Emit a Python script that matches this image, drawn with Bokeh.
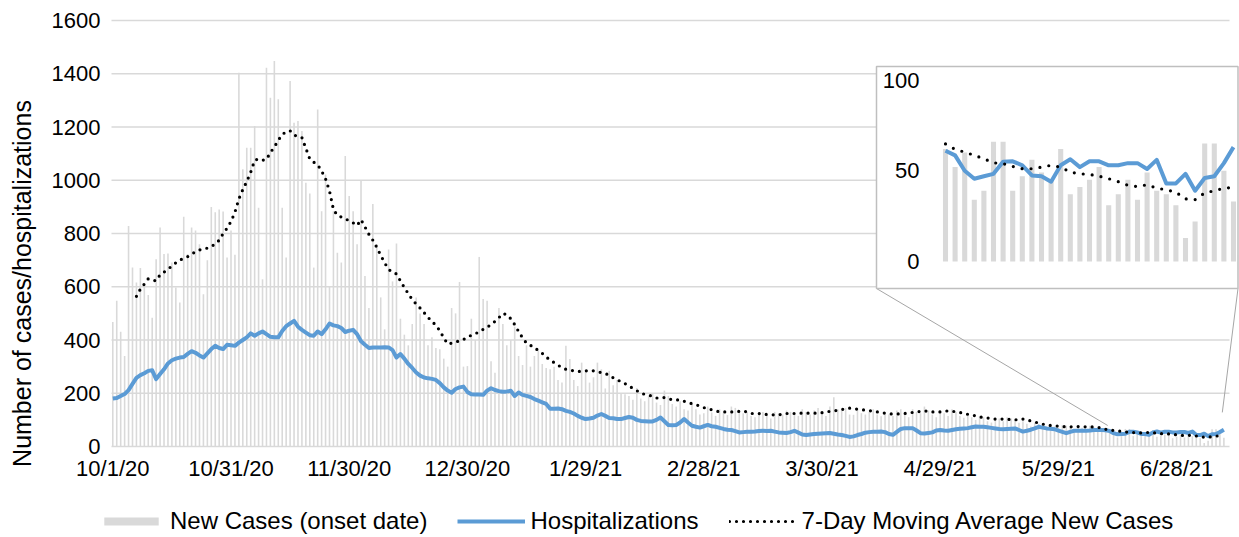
import numpy as np
from bokeh.plotting import figure
from bokeh.models import Range1d, Legend, LegendItem
from bokeh.core.properties import value
from bokeh.embed import file_html
from bokeh.resources import INLINE

# ---------------- data (daily, starting 10/1/20) ----------------
tick_days = [0, 30, 60, 90, 120, 150, 180, 210, 240, 270]
tick_labels = ["10/1/20", "10/31/20", "11/30/20", "12/30/20", "1/29/21",
               "2/28/21", "3/30/21", "4/29/21", "5/29/21", "6/28/21"]
y_ticks = [0, 200, 400, 600, 800, 1000, 1200, 1400, 1600]
inset_ticks = [0, 50, 100]
inset_first_day = 252
y_title = "Number of cases/hospitalizations"

new_cases = [
    468, 547, 431, 340, 828, 672, 616,
    670, 603, 569, 484, 703, 823, 723,
    725, 691, 597, 541, 863, 723, 823,
    811, 760, 572, 700, 900, 880, 890,
    883, 710, 811, 720, 1404, 1041, 1122,
    1122, 1204, 897, 628, 1423, 1310, 1448,
    1304, 897, 710, 1373, 1216, 1223, 1185,
    991, 950, 672, 1266, 884, 1022, 600,
    884, 728, 691, 1091, 941, 884, 760,
    1000, 640, 520, 911, 761, 560, 440,
    740, 620, 762, 480, 420, 380, 460,
    560, 500, 460, 380, 410, 370, 365,
    330, 300, 520, 500, 618, 300, 302,
    480, 400, 712, 554, 547, 320, 277,
    520, 460, 380, 400, 450, 340, 306,
    380, 300, 340, 360, 310, 295, 290,
    300, 250, 240, 378, 329, 250, 227,
    315, 280, 240, 260, 315, 290, 218,
    284, 230, 250, 200, 196, 190, 176,
    220, 180, 170, 190, 200, 165, 156,
    210, 190, 160, 150, 170, 140, 135,
    160, 140, 120, 125, 150, 128, 115,
    140, 125, 118, 150, 145, 135, 125,
    130, 115, 110, 125, 130, 118, 105,
    130, 125, 120, 135, 130, 120, 115,
    140, 130, 120, 135, 145, 125, 115,
    150, 185, 140, 135, 145, 120, 119,
    140, 125, 120, 130, 140, 120, 114,
    130, 120, 115, 135, 140, 125, 110,
    140, 130, 125, 150, 135, 120, 110,
    135, 125, 115, 140, 130, 115, 108,
    115, 110, 100, 115, 110, 95, 90,
    110, 105, 95, 110, 105, 100, 89,
    95, 85, 75, 90, 85, 72, 65,
    80, 75, 70, 80, 78, 70, 65,
    80, 70, 65, 78, 72, 62, 56,
    62, 52, 60, 34, 39, 66, 66, 39, 47, 56,
    49, 45, 62, 37, 41, 45, 52, 31, 37, 45,
    34, 49, 39, 37, 31, 13, 22, 65, 65, 50, 33,
]

hospitalizations = [
    180, 182, 190, 197, 212, 235, 258, 268, 275, 284,
    286, 253, 272, 290, 312, 324, 330, 334, 336, 348,
    358, 352, 342, 334, 350, 366, 378, 370, 366, 382,
    380, 378, 390, 400, 410, 425, 416, 425, 432, 422,
    412, 410, 410, 434, 452, 462, 472, 450, 438, 428,
    418, 416, 432, 422, 440, 462, 455, 452, 445, 430,
    435, 438, 422, 395, 382, 370, 372, 372, 372, 373,
    372, 362, 334, 347, 330, 310, 295, 278, 266, 259,
    256, 254, 250, 238, 222, 210, 202, 216, 222, 225,
    205, 196, 195, 195, 194, 210, 219, 212, 208, 206,
    207, 209, 190, 203, 194, 190, 186, 178, 172, 166,
    160, 142, 142, 143, 140, 134, 130, 124, 115, 108,
    103, 105, 108, 116, 122, 115, 107, 106, 103, 103,
    107, 111, 108, 100, 96, 95, 94, 94, 100, 109,
    95, 81, 80, 81, 90, 103, 90, 78, 74, 71,
    76, 81, 76, 74, 70, 66, 63, 62, 58, 53,
    54, 55, 55, 56, 58, 59, 58, 59, 56, 53,
    52, 51, 54, 59, 52, 45, 43, 45, 47, 48,
    49, 50, 51, 48, 45, 43, 40, 36, 38, 43,
    47, 52, 54, 55, 55, 56, 54, 47, 44, 55,
    66, 69, 69, 69, 60, 50, 49, 51, 53, 60,
    62, 60, 59, 62, 65, 67, 68, 69, 72, 75,
    74, 74, 72, 70, 68, 66, 65, 66, 67, 68,
    62, 56, 59, 63, 68, 74, 71, 68, 67, 65,
    60, 55, 50, 55, 59, 59, 59, 59, 60, 62,
    62, 62,
    61, 58.5, 50, 45.6, 47, 48.3, 55, 55.2, 53, 47.4,
    47, 44, 53, 56.3, 52, 55.2, 55.2, 53, 53, 54.2,
    54.2, 51, 56, 43, 43, 48.3, 39, 46, 47, 54.2, 63,
]

moving_avg = [
    None, None, None, None, None, None, 564, 591, 610, 630,
    625, 622, 645, 655, 666, 678, 690, 700, 707, 713,
    722, 732, 738, 742, 745, 752, 760, 775, 800, 820,
    845, 880, 930, 965, 995, 1030, 1075, 1080, 1075, 1078,
    1104, 1125, 1150, 1172, 1182, 1186, 1170, 1164, 1160, 1120,
    1080, 1068, 1058, 1035, 1005, 960, 890, 868, 862, 855,
    848, 840, 830, 852, 825, 797, 775, 748, 718, 690,
    665, 655, 648, 622, 597, 574, 552, 535, 520, 503,
    485, 470, 455, 435, 408, 385, 388, 392, 397, 402,
    410, 418, 424, 430, 440, 448, 458, 470, 484, 500,
    495, 480, 458, 432, 408, 388, 380, 372, 360, 350,
    336, 325, 315, 305, 297, 290, 288, 284, 282, 282,
    284, 286, 284, 280, 278, 274, 268, 258, 250, 244,
    236, 228, 218, 210, 200, 196, 193, 188, 182, 183,
    184, 180, 175, 175, 175, 170, 165, 161, 157, 152,
    146, 142, 138, 134, 130, 130, 130, 130, 130, 132,
    134, 129, 124, 124, 124, 122, 120, 119, 119, 119,
    121, 124, 124, 124, 125, 125, 125, 125, 125, 125,
    127, 130, 132, 134, 136, 139, 141, 144, 142, 140,
    138, 137, 135, 132, 130, 127, 125, 123, 122, 122,
    123, 124, 125, 128, 130, 132, 134, 132, 130, 130,
    130, 132, 134, 132, 131, 128, 124, 121, 119, 115,
    111, 109, 107, 105, 103, 103, 103, 102, 101, 100,
    102, 103, 100, 96, 92, 88, 84, 81, 79, 78,
    76, 75, 74, 74, 74, 75, 74, 74, 74, 73,
    72, 69,
    64.8, 61.8, 60.3, 58.5, 56.6, 54.4, 53.9, 52.4, 51.1, 51.1,
    52.0, 53.0, 52.0, 49.3, 48.3, 48.0, 47.0, 45.6, 44.0, 42.0,
    41.3, 42.3, 40.4, 39.5, 38.2, 34.5, 34.1, 37.8, 39.0, 40.4, 40.8,
]

assert len(new_cases) == len(hospitalizations) == len(moving_avg)

# ---------------- styling / layout (figure pixels) ----------------
FONT = "Liberation Sans"
TEXT_COLOR = "#000000"
GRID_COLOR = "#d9d9d9"
BAR_COLOR = "#d9d9d9"
HOSP_COLOR = "#5b9bd5"
BOX_COLOR = "#bfbfbf"
CONNECT_COLOR = "#a6a6a6"

FIG_W, FIG_H = 1239, 537
PLOT_LEFT, PLOT_RIGHT = 111, 1229     # plot area (gridline extent)
TOP_PX, ZERO_PX = 20, 446             # pixel rows of 1600 and 0
DAY0_PX, DAY_PX = 112.3, 3.94         # main x scale
YMAX = 1600
XLABEL_PX = 468                       # row of the date labels
YLABEL_RIGHT = 100                    # right edge of value labels
YTITLE_X, YTITLE_Y = 21, 283          # centre of the axis title

IN_DAY0_PX, IN_DAY_PX = 945.0, 9.6     # inset x scale
IN_ZERO_PX, IN_UNIT_PX = 261.0, 1.815  # inset y scale
IN_BOX = (876, 66, 1237.5, 288)        # inset box
IN_LABEL_RIGHT = 919
CALLOUT_Y = (79, 128)
LEGEND_LEFT = 97
LEGEND_BOTTOM = 535

days = np.arange(len(new_cases))
ma = np.array([np.nan if v is None else v for v in moving_avg], dtype=float)
cases = np.array(new_cases, dtype=float)
hosp = np.array(hospitalizations, dtype=float)


def main_x(px):
    return (px - DAY0_PX) / DAY_PX


def main_y(py):
    return (ZERO_PX - py) / (ZERO_PX - TOP_PX) * YMAX


def in_x(px):
    return inset_first_day + (px - IN_DAY0_PX) / IN_DAY_PX


def in_y(py):
    return (IN_ZERO_PX - py) / IN_UNIT_PX


# the frame covers the whole figure; labels are drawn as text glyphs
p = figure(width=FIG_W, height=FIG_H, output_backend="svg", toolbar_location=None,
           x_range=Range1d(main_x(0), main_x(FIG_W)),
           y_range=Range1d(main_y(FIG_H), main_y(0)),
           min_border=0, x_axis_type=None, y_axis_type=None)
p.extra_x_ranges = {"ix": Range1d(in_x(0), in_x(FIG_W))}
p.extra_y_ranges = {"iy": Range1d(in_y(FIG_H), in_y(0))}
p.outline_line_color = None
p.background_fill_color = "white"
p.border_fill_color = "white"
p.xgrid.visible = False
p.ygrid.visible = False

txt = dict(text_font=value(FONT), text_color=TEXT_COLOR)

# horizontal gridlines
p.segment(x0=[main_x(PLOT_LEFT)] * len(y_ticks), x1=[main_x(PLOT_RIGHT)] * len(y_ticks),
          y0=y_ticks, y1=y_ticks, line_color=GRID_COLOR, line_width=1.5)

# value labels, axis title, date labels
p.text(x=[main_x(YLABEL_RIGHT)] * len(y_ticks), y=y_ticks, text=[str(t) for t in y_ticks],
       text_align="right", text_baseline="middle", text_font_size="22px", **txt)
p.text(x=[main_x(YTITLE_X)], y=[main_y(YTITLE_Y)], text=[y_title], angle=np.pi / 2,
       text_align="center", text_baseline="middle", text_font_size="25px", **txt)
p.text(x=tick_days, y=[main_y(XLABEL_PX)] * len(tick_days), text=tick_labels,
       text_align="center", text_baseline="middle", text_font_size="22px", **txt)

# main series
bars = p.vbar(x=days, top=cases, width=0.4, fill_color=BAR_COLOR, line_color=None)
hosp_r = p.line(days, hosp, line_color=HOSP_COLOR, line_width=4, line_join="round")
ma_r = p.line(days, ma, line_color="black", line_width=3.2, line_dash="0 7", line_cap="round")

# callout connectors
bx0, by0, bx1, by1 = IN_BOX
p.segment(x0=[main_x(bx0), main_x(bx1)], y0=[main_y(by1), main_y(by1)],
          x1=[inset_first_day + 0.5, days[-1] - 0.4], y1=list(CALLOUT_Y),
          line_color=CONNECT_COLOR, line_width=1)

# inset
p.quad(left=in_x(bx0), right=in_x(bx1), top=in_y(by0), bottom=in_y(by1),
       fill_color="white", line_color=BOX_COLOR, line_width=1.5,
       x_range_name="ix", y_range_name="iy")
sel = days >= inset_first_day
p.vbar(x=days[sel], top=cases[sel], width=0.53, fill_color=BAR_COLOR, line_color=None,
       x_range_name="ix", y_range_name="iy")
p.line(days[sel], hosp[sel], line_color=HOSP_COLOR, line_width=4, line_join="round",
       x_range_name="ix", y_range_name="iy")
p.line(days[sel], ma[sel], line_color="black", line_width=3.2, line_dash="0 9",
       line_cap="round", x_range_name="ix", y_range_name="iy")
p.text(x=[in_x(IN_LABEL_RIGHT)] * len(inset_ticks), y=inset_ticks,
       text=[str(t) for t in inset_ticks], text_align="right", text_baseline="middle",
       text_font_size="22px", x_range_name="ix", y_range_name="iy", **txt)

# legend
legend = Legend(items=[
    LegendItem(label="New Cases (onset date)", renderers=[bars]),
    LegendItem(label="Hospitalizations", renderers=[hosp_r]),
    LegendItem(label="7-Day Moving Average New Cases", renderers=[ma_r]),
], orientation="horizontal", location=(LEGEND_LEFT, FIG_H - LEGEND_BOTTOM))
legend.glyph_width = 68
legend.glyph_height = 10
legend.label_standoff = 5
legend.spacing = 30
legend.padding = 0
legend.margin = 0
legend.border_line_color = None
legend.background_fill_alpha = 0
legend.label_text_font = FONT
legend.label_text_font_size = "24px"
legend.label_text_color = TEXT_COLOR
legend.label_height = 24
p.add_layout(legend)

open("out.html", "w").write(file_html(p, INLINE))
